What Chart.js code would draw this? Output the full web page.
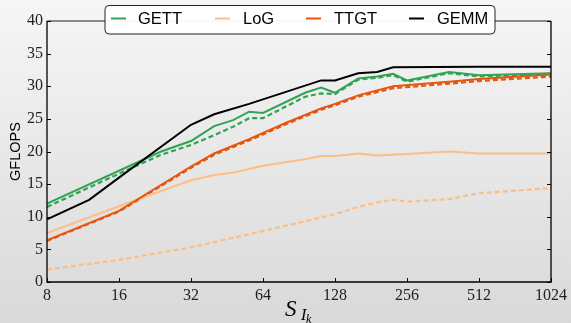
<!DOCTYPE html>
<html>
<head>
<meta charset="utf-8">
<script src="https://cdn.jsdelivr.net/npm/chart.js@4"></script>
<style>
  html, body { margin: 0; padding: 0; }
  body { background: linear-gradient(#f6f6f6, #d9d9d9); width: 571px; height: 323px; overflow: hidden; }
  #wrap { position: relative; width: 571px; height: 323px; }
</style>
</head>
<body>
<div id="wrap"><canvas id="perfChart"></canvas></div>
<script>
// x positions are S_Ik sizes, y values are GFLOPS
const xTicks = [8, 16, 32, 64, 128, 256, 512, 1024];
const yTicks = [0, 5, 10, 15, 20, 25, 30, 35, 40];

const gettX = [8, 24, 32, 40, 48, 56, 64, 96, 112, 128, 160, 192, 224, 256, 384, 512, 1024];
const gettY = [12.0, 20.0, 21.6, 23.9, 24.8, 26.1, 25.9, 29.0, 29.8, 29.0, 31.2, 31.5, 31.9, 30.9, 32.2, 31.7, 32.0];

const gettDashX = [8, 16, 24, 32, 40, 48, 56, 64, 96, 112, 128, 160, 192, 224, 256, 384, 512, 1024];
const gettDashY = [11.5, 16.6, 19.5, 21.0, 22.5, 23.8, 25.1, 25.1, 28.4, 28.9, 28.8, 31.0, 31.3, 31.7, 30.7, 32.0, 31.5, 31.9];

const logX = [8, 16, 32, 40, 48, 64, 96, 112, 128, 160, 192, 256, 384, 512, 1024];
const logY = [7.5, 11.6, 15.6, 16.4, 16.75, 17.8, 18.8, 19.3, 19.3, 19.7, 19.4, 19.6, 20.0, 19.7, 19.7];

const logDashX = [8, 16, 32, 64, 128, 160, 192, 224, 256, 384, 512, 1024];
const logDashY = [1.9, 3.4, 5.3, 7.8, 10.4, 11.5, 12.2, 12.6, 12.3, 12.7, 13.6, 14.4];

const ttgtX = [8, 16, 32, 40, 56, 80, 112, 128, 160, 224, 384, 512, 1024];
const ttgtY = [6.4, 10.9, 17.7, 19.7, 21.9, 24.4, 26.6, 27.3, 28.6, 30.0, 30.7, 31.1, 31.8];
const ttgtDashY = [6.3, 10.8, 17.5, 19.5, 21.7, 24.2, 26.4, 27.1, 28.4, 29.7, 30.4, 30.8, 31.5];

const gemmX = [8, 12, 16, 32, 40, 56, 112, 128, 160, 192, 224, 512, 1024];
const gemmY = [9.6, 12.6, 16.0, 24.1, 25.7, 27.3, 30.9, 30.9, 32.0, 32.2, 32.9, 33.0, 33.0];

const GREEN = '#31a354';
const LIGHT = '#fdbe85';
const ORANGE = '#e6550d';
const BLACK = '#000000';

function pts(xs, ys) {
    return xs.map((x, i) => ({ x: x, y: ys[i] }));
}

function line(label, xs, ys, color, dashed, order) {
    return {
        label: label,
        data: pts(xs, ys),
        borderColor: color,
        backgroundColor: color,
        borderWidth: dashed ? 2.2 : 2,
        borderDash: dashed ? [5, 3] : [],
        pointRadius: 0,
        tension: 0,
        fill: false,
        order: order,
        inLegend: !dashed
    };
}

// spines, inward ticks, legend box and the x title
const framePlugin = {
    id: 'frame',
    afterDraw(chart) {
        const ctx = chart.ctx;
        const a = chart.chartArea;
        const xs = chart.scales.x;
        const ys = chart.scales.y;
        ctx.save();

        // spines
        ctx.lineWidth = 1.3;
        ctx.strokeStyle = '#666666';
        ctx.beginPath();
        ctx.moveTo(a.left, a.top);
        ctx.lineTo(a.right, a.top);
        ctx.stroke();
        ctx.strokeStyle = '#000000';
        ctx.beginPath();
        ctx.moveTo(a.left, a.top);
        ctx.lineTo(a.left, a.bottom);
        ctx.lineTo(a.right, a.bottom);
        ctx.lineTo(a.right, a.top);
        ctx.stroke();

        // tick marks pointing in
        ctx.lineWidth = 1;
        ctx.beginPath();
        yTicks.forEach(v => {
            const y = Math.round(ys.getPixelForValue(v)) + 0.5;
            ctx.moveTo(a.left, y); ctx.lineTo(a.left + 4, y);
            ctx.moveTo(a.right, y); ctx.lineTo(a.right - 4, y);
        });
        xTicks.forEach(v => {
            const x = Math.round(xs.getPixelForValue(v)) + 0.5;
            ctx.moveTo(x, a.bottom); ctx.lineTo(x, a.bottom - 4);
        });
        ctx.stroke();

        // legend
        const bx = 105, by = 5.5, bw = 390, bh = 28.5;
        ctx.beginPath();
        ctx.roundRect(bx, by, bw, bh, 4);
        ctx.fillStyle = 'rgba(255,255,255,0.95)';
        ctx.fill();
        ctx.strokeStyle = '#222222';
        ctx.lineWidth = 1;
        ctx.stroke();

        const lineStarts = [111, 215, 306, 409];
        const textStarts = [138, 243, 334, 437];
        const entries = chart.data.datasets.filter(d => d.inLegend);
        ctx.font = '16.5px "Liberation Sans", Arial, sans-serif';
        ctx.textBaseline = 'middle';
        ctx.textAlign = 'left';
        entries.forEach((d, i) => {
            ctx.strokeStyle = d.borderColor;
            ctx.lineWidth = 2;
            ctx.beginPath();
            ctx.moveTo(lineStarts[i], 18.5);
            ctx.lineTo(lineStarts[i] + 15, 18.5);
            ctx.stroke();
            ctx.fillStyle = '#000000';
            ctx.fillText(d.label, textStarts[i], 19.5);
        });

        // x title S_{I_k}
        ctx.fillStyle = '#000000';
        ctx.textBaseline = 'alphabetic';
        ctx.font = 'italic 23px "Liberation Serif", serif';
        ctx.fillText('S', 285, 316);
        ctx.font = 'italic 16px "Liberation Serif", serif';
        ctx.fillText('I', 301, 320);
        ctx.font = 'italic 12px "Liberation Serif", serif';
        ctx.fillText('k', 306, 323);

        ctx.restore();
    }
};

document.addEventListener('DOMContentLoaded', function() {
    const ctx = document.getElementById('perfChart').getContext('2d');
    const tickFont = { family: '"Liberation Serif", serif', size: 16 };

    new Chart(ctx, {
        type: 'line',
        data: {
            datasets: [
                line('GETT', gettX, gettY, GREEN, false, 1),
                line('LoG', logX, logY, LIGHT, false, 3),
                line('TTGT', ttgtX, ttgtY, ORANGE, false, 2),
                line('GEMM', gemmX, gemmY, BLACK, false, 0),
                line('GETT dashed', gettDashX, gettDashY, GREEN, true, 4),
                line('LoG dashed', logDashX, logDashY, LIGHT, true, 6),
                line('TTGT dashed', ttgtX, ttgtDashY, ORANGE, true, 5)
            ]
        },
        options: {
            responsive: true,
            maintainAspectRatio: false,
            animation: false,
            layout: { padding: { top: 21, right: 18, left: 0, bottom: 0 } },
            plugins: {
                legend: { display: false },
                tooltip: { enabled: false }
            },
            scales: {
                x: {
                    type: 'logarithmic',
                    min: 8,
                    max: 1024,
                    grid: { display: false, drawTicks: false },
                    border: { display: false },
                    afterBuildTicks: s => { s.ticks = xTicks.map(v => ({ value: v })); },
                    afterFit: s => { s.height = 41; },
                    ticks: {
                        font: tickFont,
                        color: '#222222',
                        padding: 4,
                        maxRotation: 0,
                        autoSkip: false,
                        callback: v => String(v)
                    }
                },
                y: {
                    min: 0,
                    max: 40,
                    grid: { display: false, drawTicks: false },
                    border: { display: false },
                    afterFit: s => { s.width = 47; },
                    ticks: {
                        stepSize: 5,
                        font: tickFont,
                        color: '#222222',
                        padding: 4
                    },
                    title: {
                        display: true,
                        text: 'GFLOPS',
                        font: { family: '"Liberation Sans", Arial, sans-serif', size: 14.5 },
                        color: '#000000',
                        padding: { top: 7, bottom: 0 }
                    }
                }
            }
        },
        plugins: [framePlugin]
    });
});
</script>
</body>
</html>
